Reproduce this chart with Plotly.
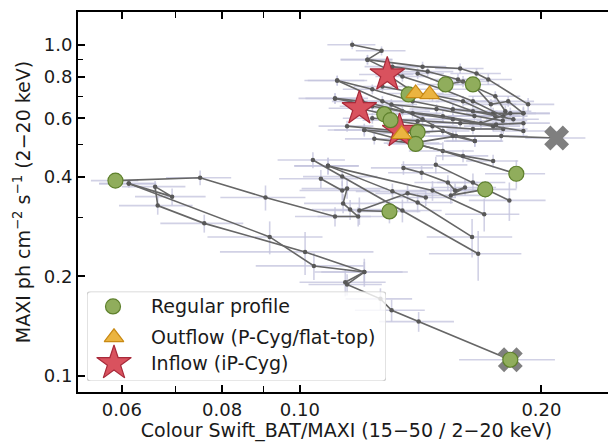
import math
import plotly.graph_objects as go

# ---------------- data ----------------
# lower-left tracks
L1_x = [0.0589, 0.0751, 0.0906, 0.1106, 0.1182, 0.1155, 0.1132, 0.1145, 0.1129, 0.1062]
L1_y = [0.389, 0.397, 0.346, 0.303, 0.303, 0.318, 0.332, 0.368, 0.363, 0.394]
L1_xerr = [0.004, 0.007, 0.011, 0.012, 0.013, 0.012, 0.012, 0.014, 0.013, 0.012]
L1_yerr = [0.008, 0.020, 0.030, 0.020, 0.020, 0.022, 0.022, 0.025, 0.024, 0.025]

L2_x = [0.0612, 0.0693, 0.0660, 0.0665, 0.0760, 0.1015, 0.1203, 0.1139]
L2_y = [0.381, 0.348, 0.373, 0.327, 0.289, 0.237, 0.206, 0.192]
L2_xerr = [0.005, 0.007, 0.006, 0.007, 0.009, 0.022, 0.016, 0.014]
L2_yerr = [0.010, 0.020, 0.015, 0.020, 0.018, 0.035, 0.020, 0.018]

L3_x = [0.0612, 0.0917, 0.1041, 0.1203, 0.1145, 0.1260, 0.1301, 0.1406, 0.1829]
L3_y = [0.381, 0.263, 0.215, 0.206, 0.189, 0.171, 0.158, 0.146, 0.112]
L3_xerr = [0.005, 0.015, 0.016, 0.014, 0.012, 0.012, 0.013, 0.015, 0.025]
L3_yerr = [0.010, 0.030, 0.020, 0.015, 0.014, 0.013, 0.012, 0.010, 0.006]

# middle tracks
M1_x = [0.1038, 0.1129, 0.1342, 0.1668]
M1_y = [0.449, 0.400, 0.316, 0.234]
M1_xerr = [0.010, 0.012, 0.016, 0.022]
M1_yerr = [0.025, 0.025, 0.025, 0.040]

M2_x = [0.1084, 0.1304, 0.1402, 0.1639]
M2_y = [0.431, 0.361, 0.334, 0.263]
M2_xerr = [0.010, 0.013, 0.015, 0.020]
M2_yerr = [0.025, 0.020, 0.022, 0.035]

M3_x = [0.1346, 0.1418, 0.1529, 0.1561, 0.1606, 0.1542, 0.1702]
M3_y = [0.425, 0.411, 0.384, 0.363, 0.371, 0.351, 0.366]
M3_xerr = [0.012, 0.013, 0.014, 0.015, 0.015, 0.014, 0.016]
M3_yerr = [0.020, 0.020, 0.020, 0.018, 0.020, 0.020, 0.022]

M4_x = [0.1477, 0.1643, 0.1824]
M4_y = [0.434, 0.384, 0.339]
M4_xerr = [0.014, 0.016, 0.020]
M4_yerr = [0.025, 0.025, 0.045]

M5_x = [0.1203, 0.1507, 0.1861]
M5_y = [0.553, 0.478, 0.408]
M5_xerr = [0.012, 0.014, 0.016]
M5_yerr = [0.025, 0.030, 0.040]

M6_x = [0.1435, 0.1362, 0.1186, 0.1293]
M6_y = [0.346, 0.356, 0.316, 0.314]
M6_xerr = [0.013, 0.012, 0.012, 0.012]
M6_yerr = [0.020, 0.020, 0.030, 0.025]

M7_x = [0.1084, 0.1463, 0.1697]
M7_y = [0.431, 0.363, 0.308]
M7_xerr = [0.010, 0.015, 0.018]
M7_yerr = [0.025, 0.025, 0.035]

# upper tracks
U1_x = [0.1162, 0.1264, 0.1214, 0.1422, 0.1584, 0.1660, 0.1717, 0.1925]
U1_y = [1.000, 0.959, 0.902, 0.859, 0.848, 0.819, 0.786, 0.661]
U1_xerr = [0.008, 0.009, 0.009, 0.010, 0.011, 0.012, 0.012, 0.015]
U1_yerr = [0.030, 0.030, 0.030, 0.030, 0.030, 0.030, 0.030, 0.030]

U2_x = [0.1113, 0.1231, 0.1382, 0.1551, 0.1741, 0.1899]
U2_y = [0.780, 0.734, 0.675, 0.639, 0.621, 0.621]
U2_xerr = [0.009, 0.010, 0.011, 0.012, 0.013, 0.015]
U2_yerr = [0.025, 0.025, 0.025, 0.025, 0.025, 0.030]

U3_x = [0.1106, 0.1196, 0.1342, 0.1507, 0.1681, 0.1829]
U3_y = [0.689, 0.675, 0.630, 0.609, 0.580, 0.621]
U3_xerr = [0.009, 0.010, 0.011, 0.012, 0.013, 0.014]
U3_yerr = [0.025, 0.025, 0.022, 0.022, 0.022, 0.025]

U4_x = [0.1203, 0.1342, 0.1507, 0.1652]
U4_y = [0.553, 0.541, 0.549, 0.512]
U4_xerr = [0.010, 0.011, 0.012, 0.013]
U4_yerr = [0.020, 0.020, 0.020, 0.020]

U5_x = [0.1238, 0.1382, 0.1565, 0.1782, 0.2089]
U5_y = [0.520, 0.505, 0.530, 0.530, 0.523]
U5_xerr = [0.010, 0.011, 0.012, 0.014, 0.018]
U5_yerr = [0.020, 0.020, 0.020, 0.020, 0.025]

U6_x = [0.1402, 0.1520, 0.1597, 0.1643, 0.1730, 0.1818, 0.1899]
U6_y = [0.819, 0.759, 0.775, 0.759, 0.661, 0.675, 0.621]
U6_xerr = [0.011, 0.012, 0.012, 0.013, 0.013, 0.014, 0.015]
U6_yerr = [0.030, 0.030, 0.030, 0.030, 0.025, 0.025, 0.025]

U7_x = [0.1304, 0.1443, 0.1574, 0.1752, 0.1803]
U7_y = [0.859, 0.830, 0.786, 0.699, 0.630]
U7_xerr = [0.010, 0.011, 0.012, 0.013, 0.014]
U7_yerr = [0.030, 0.030, 0.030, 0.025, 0.025]

U8_x = [0.1285, 0.1394, 0.1451, 0.1597, 0.1752]
U8_y = [0.813, 0.713, 0.708, 0.675, 0.609]
U8_xerr = [0.010, 0.011, 0.011, 0.012, 0.013]
U8_yerr = [0.030, 0.025, 0.025, 0.025, 0.022]

U9_x = [0.1186, 0.1274, 0.1297, 0.1463, 0.1643, 0.1792]
U9_y = [0.643, 0.617, 0.592, 0.568, 0.557, 0.557]
U9_xerr = [0.010, 0.010, 0.010, 0.011, 0.012, 0.013]
U9_yerr = [0.025, 0.022, 0.022, 0.020, 0.020, 0.020]

U10_x = [0.1145, 0.1331, 0.1394, 0.1597, 0.1741]
U10_y = [0.568, 0.549, 0.502, 0.462, 0.446]
U10_xerr = [0.009, 0.010, 0.011, 0.012, 0.013]
U10_yerr = [0.022, 0.020, 0.020, 0.020, 0.020]

U11_x = [0.1113, 0.1267, 0.1422, 0.1551, 0.1652]
U11_y = [0.780, 0.675, 0.596, 0.530, 0.512]
U11_xerr = [0.010, 0.011, 0.012, 0.013, 0.014]
U11_yerr = [0.028, 0.025, 0.022, 0.020, 0.020]

U12_x = [0.1106, 0.1231, 0.1382, 0.1551, 0.1741, 0.1899]
U12_y = [0.689, 0.652, 0.621, 0.596, 0.568, 0.549]
U12_xerr = [0.011, 0.011, 0.012, 0.013, 0.014, 0.016]
U12_yerr = [0.025, 0.022, 0.022, 0.022, 0.020, 0.020]

U13_x = [0.1214, 0.1342, 0.1507, 0.1643, 0.1792]
U13_y = [0.902, 0.802, 0.734, 0.675, 0.609]
U13_xerr = [0.009, 0.010, 0.011, 0.012, 0.013]
U13_yerr = [0.030, 0.028, 0.025, 0.025, 0.022]

U14_x = [0.1267, 0.1463, 0.1643, 0.1845]
U14_y = [0.748, 0.699, 0.630, 0.596]
U14_xerr = [0.010, 0.011, 0.012, 0.014]
U14_yerr = [0.025, 0.025, 0.022, 0.022]

U15_x = [0.1231, 0.1402, 0.1584, 0.1756, 0.1899]
U15_y = [0.600, 0.588, 0.580, 0.575, 0.580]
U15_xerr = [0.010, 0.011, 0.012, 0.013, 0.015]
U15_yerr = [0.022, 0.022, 0.020, 0.020, 0.022]

U16_x = [0.1300, 0.1480, 0.1650, 0.1790]
U16_y = [0.660, 0.640, 0.610, 0.590]
U16_xerr = [0.010, 0.011, 0.012, 0.013]
U16_yerr = [0.025, 0.022, 0.022, 0.020]

# highlighted observations
regular_x = [0.0589, 0.1293, 0.1702, 0.1861, 0.1519, 0.1643, 0.1366, 0.1274, 0.1297, 0.1402, 0.1394, 0.1829]
regular_y = [0.389, 0.314, 0.366, 0.408, 0.759, 0.759, 0.708, 0.617, 0.592, 0.545, 0.502, 0.112]
outflow_x = [0.1394, 0.1451, 0.1339]
outflow_y = [0.713, 0.708, 0.537]
inflow_x = [0.1285, 0.1186, 0.1331]
inflow_y = [0.813, 0.643, 0.549]
cross_x = [0.2089, 0.1829]
cross_y = [0.523, 0.112]

legend_labels = ["Regular profile", "Outflow (P-Cyg/flat-top)", "Inflow (iP-Cyg)"]

x_tick_vals = [0.06, 0.08, 0.1, 0.2]
x_tick_text = ["0.06", "0.08", "0.10", "0.20"]
x_minor_vals = [0.07, 0.09]
y_tick_vals = [0.1, 0.2, 0.4, 0.6, 0.8, 1.0]
y_tick_text = ["0.1", "0.2", "0.4", "0.6", "0.8", "1.0"]
y_minor_vals = [0.3, 0.5, 0.7, 0.9]

TRACKS = [
    (L1_x, L1_y, L1_xerr, L1_yerr), (L2_x, L2_y, L2_xerr, L2_yerr), (L3_x, L3_y, L3_xerr, L3_yerr),
    (M1_x, M1_y, M1_xerr, M1_yerr), (M2_x, M2_y, M2_xerr, M2_yerr), (M3_x, M3_y, M3_xerr, M3_yerr),
    (M4_x, M4_y, M4_xerr, M4_yerr), (M5_x, M5_y, M5_xerr, M5_yerr), (M6_x, M6_y, M6_xerr, M6_yerr),
    (M7_x, M7_y, M7_xerr, M7_yerr),
    (U1_x, U1_y, U1_xerr, U1_yerr), (U2_x, U2_y, U2_xerr, U2_yerr), (U3_x, U3_y, U3_xerr, U3_yerr),
    (U4_x, U4_y, U4_xerr, U4_yerr), (U5_x, U5_y, U5_xerr, U5_yerr), (U6_x, U6_y, U6_xerr, U6_yerr),
    (U7_x, U7_y, U7_xerr, U7_yerr), (U8_x, U8_y, U8_xerr, U8_yerr), (U9_x, U9_y, U9_xerr, U9_yerr),
    (U10_x, U10_y, U10_xerr, U10_yerr), (U11_x, U11_y, U11_xerr, U11_yerr),
    (U12_x, U12_y, U12_xerr, U12_yerr), (U13_x, U13_y, U13_xerr, U13_yerr),
    (U14_x, U14_y, U14_xerr, U14_yerr), (U15_x, U15_y, U15_xerr, U15_yerr),
    (U16_x, U16_y, U16_xerr, U16_yerr),
]

# ---------------- styles ----------------
FONT = "DejaVu Sans"
ERR_COLOR = "rgba(196,196,222,0.78)"
LINE_COLOR = "#666666"
GREEN_FILL, GREEN_EDGE = "#90ad5c", "#5e802c"
ORANGE_FILL, ORANGE_EDGE = "#ebb440", "#c98a14"
RED_FILL, RED_EDGE = "#d9525e", "#a82a3a"

fig = go.Figure()

# error bars first (underneath all connecting lines)
for xs, ys, xe, ye in TRACKS:
    fig.add_trace(go.Scatter(
        x=xs, y=ys, mode="markers",
        marker=dict(size=1, opacity=0),
        error_x=dict(type="data", array=xe, color=ERR_COLOR, thickness=1.6, width=0),
        error_y=dict(type="data", array=ye, color=ERR_COLOR, thickness=1.6, width=0),
        showlegend=False, hoverinfo="skip"))

# connecting lines with small dots
for xs, ys, xe, ye in TRACKS:
    fig.add_trace(go.Scatter(
        x=xs, y=ys, mode="lines+markers",
        line=dict(color=LINE_COLOR, width=1.6),
        marker=dict(size=4.5, color="#585858"),
        showlegend=False))

# special markers
fig.add_trace(go.Scatter(x=cross_x, y=cross_y, mode="markers",
                         marker=dict(symbol="x", size=22, color="#7f7f7f", line=dict(width=0)),
                         showlegend=False))
fig.add_trace(go.Scatter(x=inflow_x, y=inflow_y, mode="markers",
                         marker=dict(symbol="star", size=26, color=RED_FILL,
                                     line=dict(color=RED_EDGE, width=1.2)),
                         showlegend=False))
fig.add_trace(go.Scatter(x=regular_x, y=regular_y, mode="markers",
                         marker=dict(symbol="circle", size=15, color=GREEN_FILL,
                                     line=dict(color=GREEN_EDGE, width=1.2)),
                         showlegend=False))
fig.add_trace(go.Scatter(x=outflow_x, y=outflow_y, mode="markers",
                         marker=dict(symbol="triangle-up", size=17, color=ORANGE_FILL,
                                     line=dict(color=ORANGE_EDGE, width=1.2)),
                         showlegend=False))

# ---------------- layout geometry ----------------
# the page places the figure 8 px from the window's top-left corner
W, H = 616, 443
OFF = 8
ML, MR, MT, MB = 78 - OFF, 9, 10 - OFF, 59
PW, PH = W - ML - MR, H - MT - MB
box_l, box_r, box_t, box_b = 87 - OFF, 386 - OFF, 291 - OFF, 381 - OFF
bw, bh = box_r - box_l, box_b - box_t

# ---------------- custom legend on an inset subplot (1 unit = 1 px) ----------------
leg_sym_x = [26, 27, 27]
leg_sym_y = [75, 44, 18]
fig.add_trace(go.Scatter(x=[leg_sym_x[0]], y=[leg_sym_y[0]], xaxis="x2", yaxis="y2", mode="markers",
                         marker=dict(symbol="circle", size=15, color=GREEN_FILL,
                                     line=dict(color=GREEN_EDGE, width=1.2)), showlegend=False))
fig.add_trace(go.Scatter(x=[leg_sym_x[1]], y=[leg_sym_y[1]], xaxis="x2", yaxis="y2", mode="markers",
                         marker=dict(symbol="triangle-up", size=17, color=ORANGE_FILL,
                                     line=dict(color=ORANGE_EDGE, width=1.2)), showlegend=False))
fig.add_trace(go.Scatter(x=[leg_sym_x[2]], y=[leg_sym_y[2]], xaxis="x2", yaxis="y2", mode="markers",
                         marker=dict(symbol="star", size=26, color=RED_FILL,
                                     line=dict(color=RED_EDGE, width=1.2)), showlegend=False))

r = 4
box_path = (f"M{r},0 L{bw - r},0 Q{bw},0 {bw},{r} L{bw},{bh - r} Q{bw},{bh} {bw - r},{bh} "
            f"L{r},{bh} Q0,{bh} 0,{bh - r} L0,{r} Q0,0 {r},0 Z")
fig.add_shape(type="path", path=box_path, xref="x2", yref="y2", layer="below",
              fillcolor="rgba(255,255,255,0.8)", line=dict(color="#cfcfcf", width=1.2))

for lab, yy in zip(legend_labels, leg_sym_y):
    fig.add_annotation(x=62, y=yy, xref="x2", yref="y2", text=lab, showarrow=False,
                       xanchor="left", yanchor="middle",
                       font=dict(family=FONT, size=19, color="#1a1a1a"))

axis_common = dict(showline=True, linecolor="black", linewidth=1.8, mirror="allticks",
                   ticks="inside", ticklen=7, tickwidth=1.5, tickcolor="black",
                   showgrid=False, zeroline=False,
                   tickfont=dict(family=FONT, size=18, color="#1a1a1a"))

fig.update_layout(
    width=W, height=H,
    margin=dict(l=ML, r=MR, t=MT, b=MB),
    paper_bgcolor="white", plot_bgcolor="rgba(0,0,0,0)",
    font=dict(family=FONT, color="#1a1a1a"),
    showlegend=False,
    xaxis=dict(type="log", range=[math.log10(0.0529), math.log10(0.247)],
               tickmode="array", tickvals=x_tick_vals, ticktext=x_tick_text,
               ticklabelstandoff=0,
               minor=dict(tickvals=x_minor_vals, ticks="inside", ticklen=6, tickwidth=1.3, tickcolor="black"),
               title=dict(text="Colour Swift_BAT/MAXI (15\u221250 / 2\u221220 keV)",
                          font=dict(family=FONT, size=19, color="#1a1a1a"), standoff=3),
               **axis_common),
    yaxis=dict(type="log", range=[math.log10(0.0895), math.log10(1.256)],
               tickmode="array", tickvals=y_tick_vals, ticktext=y_tick_text,
               minor=dict(tickvals=y_minor_vals, ticks="inside", ticklen=5, tickwidth=1.3, tickcolor="black"),
               title=dict(text="MAXI ph cm<sup>\u22122</sup> s<sup>\u22121</sup> (2\u221220 keV)",
                          font=dict(family=FONT, size=19, color="#1a1a1a"), standoff=8),
               **axis_common),
    xaxis2=dict(domain=[(box_l - ML) / PW, (box_r - ML) / PW], range=[0, bw], anchor="y2",
                visible=False, fixedrange=True),
    yaxis2=dict(domain=[(H - MB - box_b) / PH, (H - MB - box_t) / PH], range=[0, bh], anchor="x2",
                visible=False, fixedrange=True),
)

fig.write_html("out.html")
